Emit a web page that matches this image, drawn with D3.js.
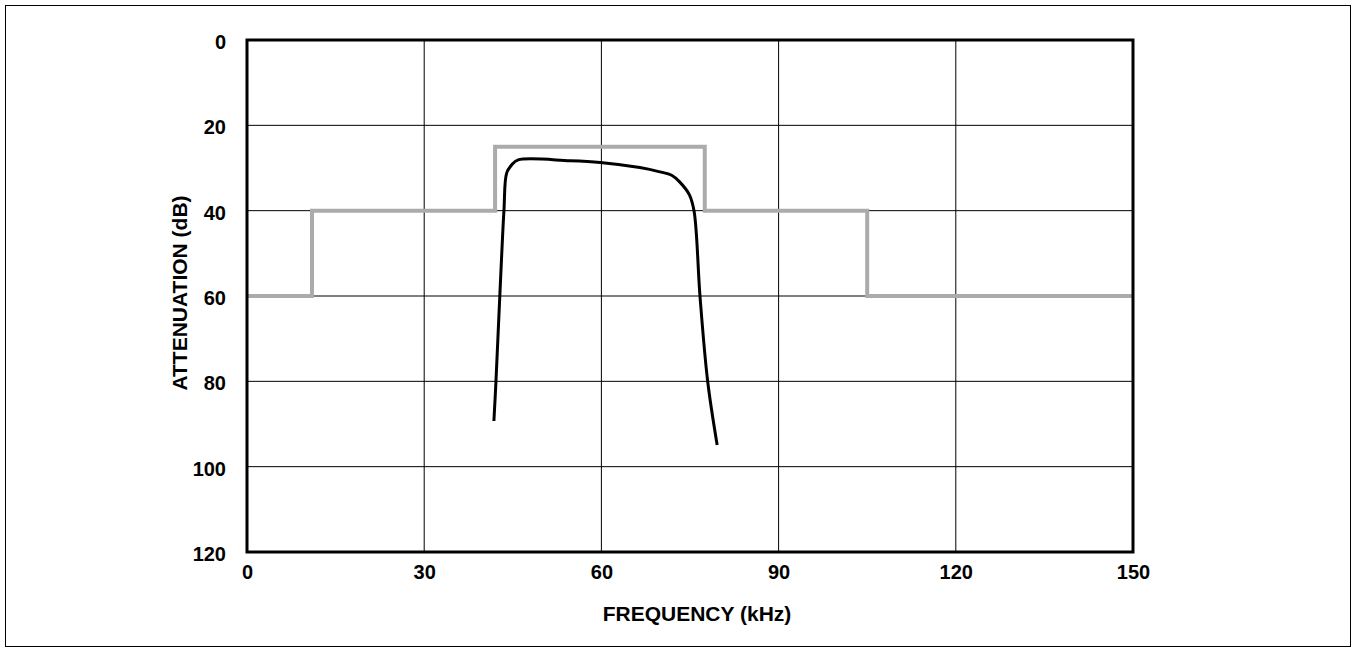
<!DOCTYPE html>
<html><head><meta charset="utf-8">
<script src="https://cdn.jsdelivr.net/npm/d3@7"></script>
<style>body{margin:0;background:#fff}svg{display:block}text{font-family:"Liberation Sans",Arial,sans-serif;font-weight:bold}</style>
</head><body>
<script>
const xTicks = [0, 30, 60, 90, 120, 150];
const yTicks = [0, 20, 40, 60, 80, 100, 120];
// Mask (gray step line): frequency kHz, attenuation dB
const maskFreq = [0, 11, 11, 42, 42, 77.5, 77.5, 105, 105, 150];
const maskAtt  = [60, 60, 40, 40, 25, 25, 40, 40, 60, 60];
// Measured response (black curve)
const respFreq = [41.8, 42.15, 42.8, 43.5, 43.96, 44.8, 45.9, 54.7, 59.8, 66.5, 69.9, 71.9, 73.2, 74.9, 75.7, 76.7, 78.0, 79.6];
const respAtt  = [89.3, 80, 60, 40, 31.2, 29.3, 28.1, 28.3, 28.7, 29.9, 30.9, 31.7, 33.2, 36.3, 40.2, 60.2, 80.1, 94.9];

const W = 1356, H = 652;
const L = 247, R = 1133, T = 40, B = 552;
const svg = d3.select("body").append("svg").attr("width", W).attr("height", H);
svg.append("rect").attr("x", 5.5).attr("y", 5.5).attr("width", W - 11).attr("height", H - 11)
  .attr("fill", "none").attr("stroke", "#000").attr("stroke-width", 1);

const x = d3.scaleLinear().domain([0, 150]).range([L, R]);
const y = d3.scaleLinear().domain([0, 120]).range([T, B]);

const g = svg.append("g");
g.selectAll(".vg").data(xTicks.slice(1, -1)).join("line")
  .attr("x1", d => x(d)).attr("x2", d => x(d)).attr("y1", T).attr("y2", B)
  .attr("stroke", "#000").attr("stroke-width", 1);
g.selectAll(".hg").data(yTicks.slice(1, -1)).join("line")
  .attr("x1", L).attr("x2", R).attr("y1", d => y(d)).attr("y2", d => y(d))
  .attr("stroke", "#000").attr("stroke-width", 1);

const line = d3.line().x(d => x(d[0])).y(d => y(d[1]));
g.append("path").datum(maskFreq.map((f, i) => [f, maskAtt[i]]))
  .attr("d", line).attr("fill", "none").attr("stroke", "#ababab").attr("stroke-width", 4);
g.append("path").datum(respFreq.map((f, i) => [f, respAtt[i]]))
  .attr("d", d3.line().x(d => x(d[0])).y(d => y(d[1])).curve(d3.curveCatmullRom.alpha(0.5)))
  .attr("fill", "none").attr("stroke", "#000").attr("stroke-width", 3).attr("stroke-linejoin", "round");

g.append("rect").attr("x", L).attr("y", T).attr("width", R - L).attr("height", B - T)
  .attr("fill", "none").attr("stroke", "#000").attr("stroke-width", 3);

const xa = svg.append("g").attr("transform", `translate(0,${B + 13})`)
  .call(d3.axisBottom(x).tickValues(xTicks).tickSize(0).tickPadding(0).tickFormat(d3.format("d")));
xa.select(".domain").remove();
xa.selectAll("text").attr("font-size", 20).attr("font-family", "Liberation Sans, Arial, sans-serif").attr("font-weight", "bold").attr("fill", "#000");

const ya = svg.append("g").attr("transform", `translate(${L - 21},2)`)
  .call(d3.axisLeft(y).tickValues(yTicks).tickSize(0).tickPadding(0).tickFormat(d3.format("d")));
ya.select(".domain").remove();
ya.selectAll("text").attr("font-size", 20).attr("font-family", "Liberation Sans, Arial, sans-serif").attr("font-weight", "bold").attr("fill", "#000");

svg.append("text").attr("x", 697).attr("y", 621).attr("text-anchor", "middle")
  .attr("font-size", 21).text("FREQUENCY (kHz)");
svg.append("text").attr("transform", `translate(187,293) rotate(-90)`).attr("text-anchor", "middle")
  .attr("font-size", 21).text("ATTENUATION (dB)");
</script>
</body></html>
